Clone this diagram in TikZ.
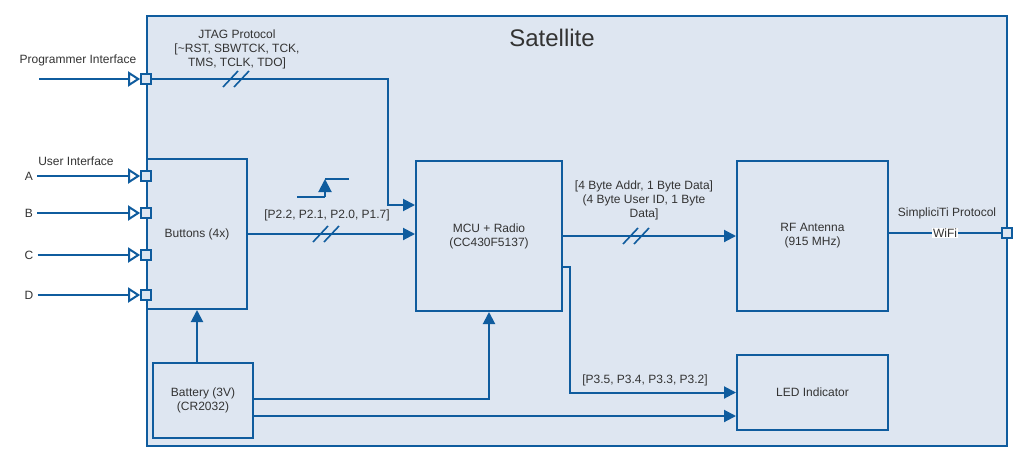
\documentclass[tikz,border=0pt]{standalone}
\usepackage{fontspec}
\setmainfont{Liberation Sans}
\usetikzlibrary{arrows.meta,positioning}

\definecolor{satline}{HTML}{0F5C9E}
\definecolor{satfill}{HTML}{DEE6F1}
\definecolor{sattext}{HTML}{333333}

\tikzset{
  block/.style={draw=satline, fill=satfill, line width=2pt, inner sep=0pt, align=center, text=sattext, font=\fontsize{12}{14}\selectfont},
  port/.style={draw=satline, fill=satfill, line width=1.8pt, minimum size=10pt, inner sep=0pt},
  wire/.style={draw=satline, line width=2pt},
  sig/.style={wire, -{Triangle[length=12pt, width=12pt]}},
  inp/.style={wire, -{Triangle[open, length=12pt, width=15pt]}},
  lbl/.style={text=sattext, inner sep=0pt, align=center, font=\fontsize{12}{14}\selectfont},
}

% two slashes across a bus line
\newcommand{\busmark}[1]{%
  \draw[wire, line width=1.6pt] ([shift={(-13,8)}]#1) -- ++(15,-16) ([shift={(-2,8)}]#1) -- ++(15,-16);}

\begin{document}
\begin{tikzpicture}[x=1pt, y=-1pt]
    \useasboundingbox (0, 0) rectangle (1016, 453);

    % Nodes
    \node[block, minimum width=860pt, minimum height=430pt] at (577, 231)  (sat)  {};
    \node[lbl, font=\fontsize{24}{27}\selectfont] at (552, 38)  (title)  {Satellite};

    \node[block, minimum width=100pt, minimum height=150pt] at (197, 234)    (buttons)  {Buttons (4x)};
    \node[block, minimum width=146pt, minimum height=150pt] at (489, 236)    (mcu)      {MCU + Radio\\(CC430F5137)};
    \node[block, minimum width=151pt, minimum height=150pt] at (812.5, 236)  (rf)       {RF Antenna\\(915 MHz)};
    \node[block, minimum width=151pt, minimum height=75pt]  at (812.5, 392.5) (led)     {LED Indicator};
    \node[block, minimum width=100pt, minimum height=75pt]  at (203, 400.5)  (battery)  {Battery (3V)\\(CR2032)};

    % ports
    \node[port] at (146, 79)   (progport) {};
    \node[port] at (146, 176)  (porta)    {};
    \node[port] at (146, 213)  (portb)    {};
    \node[port] at (146, 255)  (portc)    {};
    \node[port] at (146, 295)  (portd)    {};
    \node[port] at (1007, 233) (wifiport) {};

    % outside inputs
    \coordinate (progin) at (39, 79);
    \node[lbl] at (29, 176) (ina) {A};
    \node[lbl] at (29, 213) (inb) {B};
    \node[lbl] at (29, 255) (inc) {C};
    \node[lbl] at (29, 295) (ind) {D};
    \node[lbl] at (78, 60)  (proglbl) {Programmer Interface};
    \node[lbl] at (76, 161) (userlbl) {User Interface};

    \draw[inp] (progin) -- (progport.west);
    \draw[inp] (ina.east) ++(4, 0) -- (porta.west);
    \draw[inp] (inb.east) ++(4, 0) -- (portb.west);
    \draw[inp] (inc.east) ++(4, 0) -- (portc.west);
    \draw[inp] (ind.east) ++(4, 0) -- (portd.west);

    % JTAG
    \coordinate (jtagbend) at (388, 79);
    \coordinate (jtagmark) at (236, 79);
    \draw[sig] (progport.east) -- (jtagbend) |- ([yshift=31pt]mcu.west);
    \busmark{jtagmark}
    \node[lbl] at (237, 49) (jtaglbl) {JTAG Protocol\\{}[\textasciitilde RST, SBWTCK, TCK,\\TMS, TCLK, TDO]};

    % buttons to mcu
    \coordinate (btnmark) at (326, 234);
    \draw[sig] (buttons.east) -- (mcu.west |- buttons.east);
    \busmark{btnmark}
    \node[lbl] at (327, 215) (btnlbl) {[P2.2, P2.1, P2.0, P1.7]};
    \draw[wire] (297, 197) -- (325, 197);
    \draw[wire, -{Triangle[length=13pt, width=13pt]}] (325, 197) -- (325, 179);
    \draw[wire] (325, 179) -- (349, 179);

    % mcu to rf
    \coordinate (rfmark) at (636, 236);
    \draw[sig] (mcu.east) -- (rf.west);
    \busmark{rfmark}
    \node[lbl] at (644, 200) (rflbl) {[4 Byte Addr, 1 Byte Data]\\(4 Byte User ID, 1 Byte\\Data]};

    % rf to outside
    \draw[wire] (rf.east |- wifiport) -- (wifiport.west)
      node[midway, fill=white, text=sattext, inner sep=1pt, font=\fontsize{12}{14}\selectfont] (wifi) {WiFi};
    \node[lbl] at (947, 213) (simplbl) {SimpliciTi Protocol};

    % mcu to led
    \draw[sig] ([yshift=-31pt]mcu.east) -- ++(7, 0) |- (led.west);
    \node[lbl] at (645, 380) (ledlbl) {[P3.5, P3.4, P3.3, P3.2]};

    % battery
    \draw[sig] (buttons.south |- battery.north) -- (buttons.south);
    \draw[sig] ([yshift=1.5pt]battery.east) -| (mcu.south);
    \draw[sig] (battery.east |- 0, 416) -- (led.west |- 0, 416);

\end{tikzpicture}
\end{document}
